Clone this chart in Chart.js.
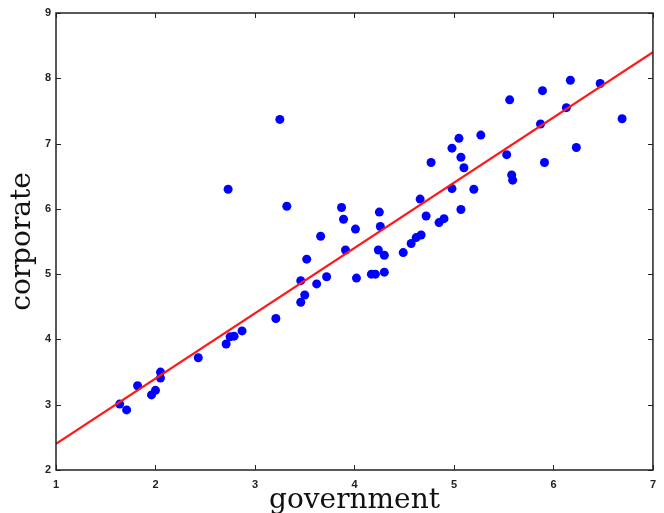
<!DOCTYPE html>
<html>
<head>
<meta charset="utf-8">
<script src="https://cdn.jsdelivr.net/npm/chart.js@4.4.1/dist/chart.umd.min.js"></script>
<style>
  html, body { margin: 0; padding: 0; background: #fff; }
  #wrap { width: 664px; height: 513px; }
</style>
</head>
<body>
<div id="wrap"><canvas id="c" width="664" height="513"></canvas></div>
<script>
const government = [
  1.64, 1.71, 1.82, 1.96, 2.00, 2.05, 2.05, 2.43, 2.71, 2.75,
  2.79, 2.87, 3.21, 3.46, 3.50, 3.46, 3.52, 3.62, 3.72, 3.91,
  4.02, 3.66, 2.73, 3.25, 3.32, 3.87, 3.89, 4.01, 4.17, 4.21,
  4.30, 4.24, 4.30, 4.49, 4.57, 4.62, 4.67, 4.25, 4.26, 4.66,
  4.72, 4.85, 4.90, 5.07, 4.98, 5.20, 4.77, 5.10, 5.07, 4.98,
  5.05, 5.27, 5.53, 5.58, 5.59, 5.91, 6.23, 5.87, 6.13, 5.56,
  5.89, 6.17, 6.47, 6.69
];
const corporate = [
  3.01, 2.92, 3.29, 3.15, 3.22, 3.50, 3.41, 3.72, 3.93, 4.04,
  4.05, 4.13, 4.32, 4.57, 4.68, 4.90, 5.23, 4.85, 4.96, 5.37,
  4.94, 5.58, 6.30, 7.37, 6.04, 6.02, 5.84, 5.69, 5.00, 5.00,
  5.03, 5.37, 5.29, 5.33, 5.47, 5.56, 5.60, 5.95, 5.73, 6.15,
  5.89, 5.79, 5.85, 5.99, 6.31, 6.30, 6.71, 6.63, 6.79, 6.93,
  7.08, 7.13, 6.83, 6.52, 6.44, 6.71, 6.94, 7.30, 7.55, 7.67,
  7.81, 7.97, 7.92, 7.38
];
// Fitted line endpoints
const fitX = [1, 7];
const fitY = [2.4, 8.4];
// Axis ticks
const xTicks = [1, 2, 3, 4, 5, 6, 7];
const yTicks = [2, 3, 4, 5, 6, 7, 8, 9];

const points = government.map((g, i) => ({ x: g, y: corporate[i] }));
const fitLine = fitX.map((x, i) => ({ x: x, y: fitY[i] }));

const boxPlugin = {
  id: 'box',
  afterDatasetsDraw(chart) {
    const { ctx, chartArea: a, scales } = chart;
    const tl = 5;
    ctx.save();
    ctx.strokeStyle = '#222';
    ctx.lineWidth = 1;
    ctx.beginPath();
    xTicks.forEach(v => {
      const px = Math.round(scales.x.getPixelForValue(v)) + 0.5;
      ctx.moveTo(px, a.bottom); ctx.lineTo(px, a.bottom - tl);
      ctx.moveTo(px, a.top); ctx.lineTo(px, a.top + tl);
    });
    yTicks.forEach(v => {
      const py = Math.round(scales.y.getPixelForValue(v)) + 0.5;
      ctx.moveTo(a.left, py); ctx.lineTo(a.left + tl, py);
      ctx.moveTo(a.right, py); ctx.lineTo(a.right - tl, py);
    });
    ctx.stroke();
    ctx.lineWidth = 1.5;
    ctx.strokeRect(a.left, a.top, a.right - a.left, a.bottom - a.top);
    ctx.restore();
  }
};

new Chart(document.getElementById('c'), {
  type: 'scatter',
  data: {
    datasets: [
      {
        type: 'line',
        data: fitLine,
        borderColor: '#ff1a1a',
        borderWidth: 2.2,
        pointRadius: 0,
        fill: false,
        order: 0
      },
      {
        data: points,
        backgroundColor: '#0000ff',
        borderColor: '#0000ff',
        pointRadius: 4.5,
        borderWidth: 0,
        order: 1
      }
    ]
  },
  options: {
    responsive: false,
    animation: false,
    events: [],
    layout: { padding: { top: 13, right: 8, left: 0, bottom: 0 } },
    plugins: { legend: { display: false }, tooltip: { enabled: false } },
    scales: {
      x: {
        type: 'linear',
        min: 1, max: 7,
        afterFit(s) { s.height = 43; },
        afterBuildTicks(s) { s.ticks = xTicks.map(v => ({ value: v })); },
        grid: { display: false, drawTicks: false },
        border: { display: false },
        ticks: {
          padding: 8,
          color: '#222',
          font: { family: 'Liberation Sans, Arial, sans-serif', size: 11, weight: 'bold' }
        },
        title: {
          display: true,
          text: 'government',
          color: '#111',
          padding: { top: 0, bottom: 0 },
          font: { family: 'DejaVu Serif, serif', size: 28, lineHeight: 0.85 }
        }
      },
      y: {
        type: 'linear',
        min: 2, max: 9,
        afterFit(s) { s.width = 56; },
        afterBuildTicks(s) { s.ticks = yTicks.map(v => ({ value: v })); },
        grid: { display: false, drawTicks: false },
        border: { display: false },
        ticks: {
          padding: 5,
          color: '#222',
          font: { family: 'Liberation Sans, Arial, sans-serif', size: 11, weight: 'bold' }
        },
        title: {
          display: true,
          text: 'corporate',
          color: '#111',
          padding: { top: 6, bottom: 0 },
          font: { family: 'DejaVu Serif, serif', size: 28 }
        }
      }
    }
  },
  plugins: [boxPlugin]
});
</script>
</body>
</html>
